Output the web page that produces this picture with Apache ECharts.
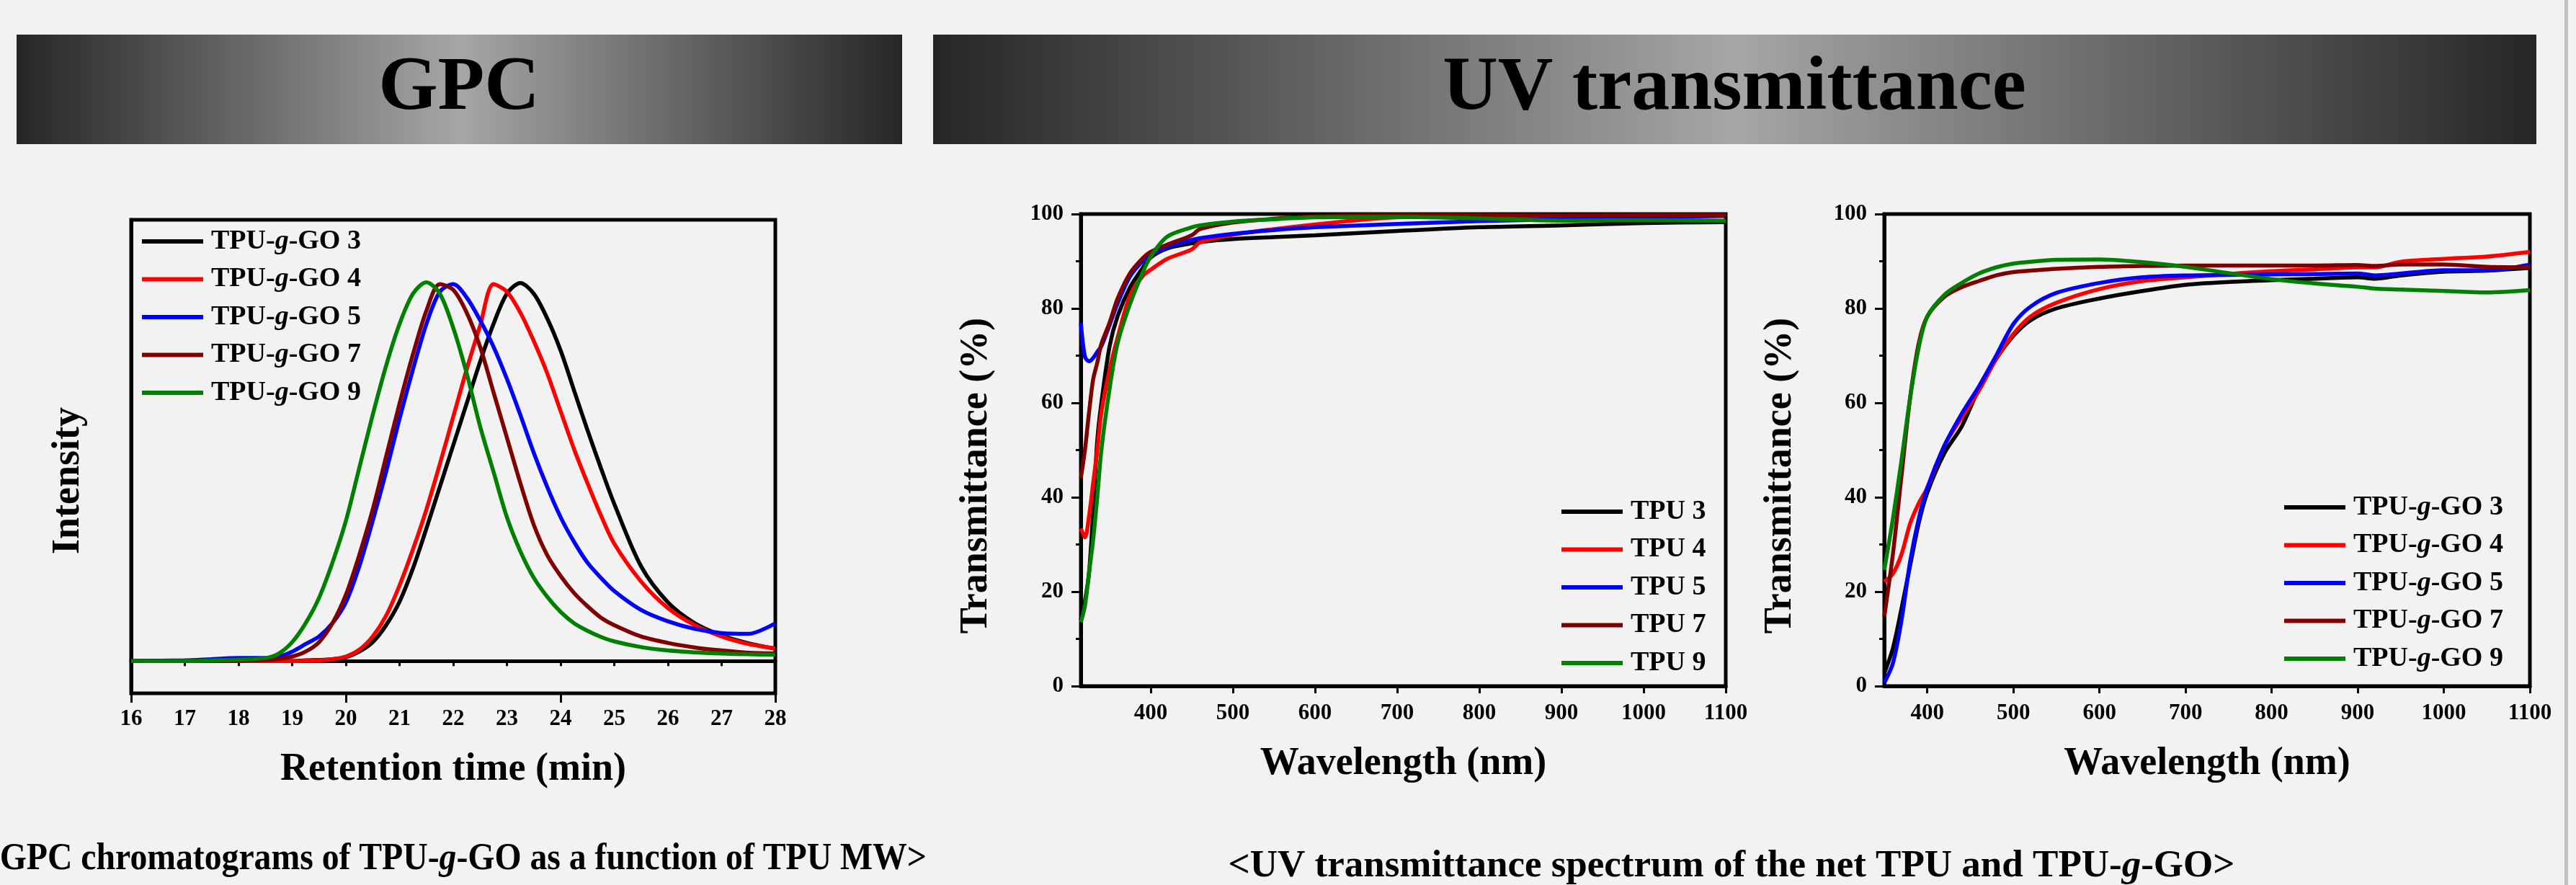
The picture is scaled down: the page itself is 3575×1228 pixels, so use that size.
<!DOCTYPE html>
<html>
<head>
<meta charset="utf-8">
<script src="https://cdn.jsdelivr.net/npm/echarts@6/dist/echarts.min.js"></script>
<style>
html,body{margin:0;padding:0;background:#f2f2f2;}
#main{width:3575px;height:1228px;}
</style>
</head>
<body>
<div id="main"></div>
<script>
var serif = '"Liberation Serif", "Times New Roman", serif'

// GPC: retention time (min) vs normalised intensity
var gpcTime = [16, 17, 17.5, 18, 18.5, 18.75, 19, 19.25, 19.5, 19.75, 20, 20.25, 20.5, 20.75, 21, 21.25, 21.5, 21.75, 22, 22.25, 22.5, 22.75, 23, 23.25, 23.5, 23.75, 24, 24.25, 24.5, 24.75, 25, 25.5, 26, 26.5, 27, 27.5, 28]
var gpc3 = [0, 0, 0, 0, 0, 0, 0, 0.002, 0.003, 0.005, 0.01, 0.025, 0.05, 0.095, 0.157, 0.245, 0.35, 0.46, 0.57, 0.68, 0.79, 0.89, 0.97, 0.998, 0.97, 0.905, 0.82, 0.715, 0.61, 0.51, 0.415, 0.25, 0.155, 0.1, 0.068, 0.047, 0.033]
var gpc4 = [0, 0, 0, 0, 0, 0, 0, 0.001, 0.002, 0.005, 0.012, 0.03, 0.065, 0.12, 0.2, 0.295, 0.4, 0.52, 0.645, 0.77, 0.885, 0.995, 0.975, 0.92, 0.845, 0.76, 0.66, 0.56, 0.47, 0.385, 0.31, 0.21, 0.14, 0.095, 0.065, 0.045, 0.033]
var gpc5 = [0, 0.002, 0.005, 0.008, 0.008, 0.012, 0.025, 0.045, 0.065, 0.1, 0.155, 0.25, 0.37, 0.5, 0.64, 0.77, 0.89, 0.975, 0.995, 0.96, 0.9, 0.83, 0.745, 0.65, 0.55, 0.46, 0.38, 0.315, 0.26, 0.22, 0.185, 0.135, 0.105, 0.085, 0.074, 0.072, 0.1]
var gpc7 = [0, 0, 0, 0.001, 0.003, 0.006, 0.012, 0.025, 0.05, 0.1, 0.175, 0.28, 0.4, 0.54, 0.68, 0.81, 0.925, 0.995, 0.98, 0.92, 0.83, 0.71, 0.59, 0.47, 0.36, 0.28, 0.225, 0.18, 0.145, 0.115, 0.095, 0.065, 0.048, 0.036, 0.028, 0.022, 0.02]
var gpc9 = [0, 0, 0.002, 0.004, 0.008, 0.02, 0.05, 0.1, 0.167, 0.26, 0.37, 0.51, 0.65, 0.78, 0.89, 0.97, 1.0, 0.97, 0.88, 0.76, 0.62, 0.5, 0.38, 0.29, 0.22, 0.17, 0.13, 0.1, 0.08, 0.064, 0.052, 0.037, 0.028, 0.023, 0.02, 0.018, 0.017]

// UV transmittance of the net TPU (%)
var uvWave1 = [315, 320, 325, 330, 335, 340, 350, 360, 375, 390, 400, 420, 450, 460, 500, 550, 600, 700, 800, 900, 1000, 1100]
var tpu3 = [14, 18, 24, 37, 52, 60, 72, 78.5, 84.5, 88.5, 90.8, 92.7, 93.8, 94.1, 94.7, 95.1, 95.5, 96.4, 97.2, 97.6, 98.1, 98.3]
var tpu4 = [33.4, 31.5, 36, 43, 50, 58, 67, 74, 82.8, 86.8, 88.2, 90.5, 92.5, 94, 95.6, 96.8, 97.8, 99.3, 99.5, 99.5, 99.6, 99.6]
var tpu5 = [77, 69.8, 68.8, 69.5, 70.8, 72, 76.5, 81.2, 86.8, 90, 91.3, 93, 94.5, 94.9, 95.8, 96.6, 97.2, 97.9, 98.5, 98.9, 99.3, 99.6]
var tpu7 = [44, 50, 58, 65, 68.5, 72.5, 77, 82.2, 87.5, 90.6, 92, 93.5, 95.5, 96.8, 98.2, 99, 99.5, 99.8, 99.8, 99.7, 99.8, 99.8]
var tpu9 = [13.5, 17, 24, 31, 40, 50, 63, 72.8, 81, 87.5, 91, 95.2, 97.2, 97.6, 98.4, 98.9, 99.3, 99.4, 99.1, 98.6, 98.7, 98.6]

// UV transmittance of TPU-g-GO (%)
var uvWave2 = [350, 360, 370, 380, 390, 400, 420, 440, 460, 480, 500, 520, 550, 600, 650, 700, 750, 800, 850, 900, 920, 950, 1000, 1050, 1100]
var go3 = [2.7, 8, 16.4, 25.5, 34.5, 41, 49.4, 55, 63, 69.3, 74.2, 77.5, 80, 82.1, 83.7, 85, 85.6, 86, 86.3, 86.6, 86.3, 87, 87.8, 88, 88.6]
var go4 = [22.1, 23.8, 27.9, 34.4, 38.7, 42, 51, 56.9, 62.6, 69.3, 74.6, 78.3, 81.2, 84.1, 85.8, 86.6, 87.3, 87.9, 88.3, 88.7, 88.7, 89.9, 90.5, 91, 92]
var go5 = [0.7, 4.8, 13.9, 26.3, 35.4, 42, 51, 57.7, 63.5, 70, 76.7, 80.4, 83.3, 85.4, 86.6, 87, 87.1, 87.2, 87.3, 87.4, 87, 87.4, 88.1, 88.1, 89.3]
var go7 = [14.7, 27.9, 44.5, 61, 72.6, 78.3, 82.5, 84.5, 85.8, 87, 87.7, 88, 88.4, 88.8, 89, 89.1, 89.1, 89.1, 89.1, 89.2, 89, 89.3, 89.3, 88.8, 88.7]
var go9 = [24.6, 35.4, 47.8, 61, 71.7, 78.3, 82.9, 85.4, 87.4, 88.7, 89.5, 89.9, 90.3, 90.4, 89.8, 88.8, 87.5, 86.2, 85.3, 84.6, 84.2, 84, 83.7, 83.4, 83.9]

var uvTicks = [400, 500, 600, 700, 800, 900, 1000, 1100]
var tpuNames = ['TPU 3', 'TPU 4', 'TPU 5', 'TPU 7', 'TPU 9']
var goNames = ['TPU-g-GO 3', 'TPU-g-GO 4', 'TPU-g-GO 5', 'TPU-g-GO 7', 'TPU-g-GO 9']
var colors = ['#000000', '#ff0000', '#0000ff', '#800000', '#008000']

var chart = echarts.init(document.getElementById('main'))

function pairs(xs, ys){
	var out = []
	for (var i = 0; i < xs.length; i++) out.push([xs[i], ys[i]])
	return out
}

function line(name, k, xi, yi, xs, ys){
	return {
		name: name, type: 'line', xAxisIndex: xi, yAxisIndex: yi,
		data: pairs(xs, ys), symbol: 'none', showSymbol: false, smooth: 0.3,
		lineStyle: {color: colors[k], width: 5.5}, itemStyle: {color: colors[k]}
	}
}

var blk = '#000'
var plain = function(v){ return String(v) }
var tickLabel = {fontFamily: serif, fontWeight: 'bold', fontSize: 31, color: blk, formatter: plain}
var titleText = {fontFamily: serif, fontWeight: 'bold', fontSize: 54, color: blk}

function legend(names, left, top){
	return {
		orient: 'vertical', left: left, top: top, padding: 0,
		itemWidth: 85, itemHeight: 6, itemGap: 14.5, icon: 'rect',
		selectedMode: false, data: names,
		formatter: function(n){ return n.replace('-g-', '-{i|g}-') },
		textStyle: {
			fontFamily: serif, fontWeight: 'bold', fontSize: 38, lineHeight: 38, color: blk,
			padding: [0, 0, 0, 6],
			rich: {i: {fontFamily: serif, fontWeight: 'bold', fontStyle: 'italic', fontSize: 38, lineHeight: 38, color: blk}}
		}
	}
}

function uvX(grid, min){
	return {
		gridIndex: grid, type: 'value', min: min, max: 1100, position: 'bottom',
		axisLine: {show: true, lineStyle: {color: blk, width: 5}},
		axisTick: {customValues: uvTicks, length: 10, lineStyle: {color: blk, width: 3}},
		axisLabel: Object.assign({customValues: uvTicks, margin: 22}, tickLabel),
		splitLine: {show: false},
		name: 'Wavelength (nm)', nameLocation: 'middle', nameGap: 81, nameTextStyle: titleText
	}
}

function uvY(grid){
	return {
		gridIndex: grid, type: 'value', min: 0, max: 100, interval: 20,
		axisLine: {show: true, lineStyle: {color: blk, width: 5}},
		axisTick: {show: true, length: 13, lineStyle: {color: blk, width: 3}},
		minorTick: {show: true, splitNumber: 2, length: 7, lineStyle: {color: blk, width: 3}},
		axisLabel: Object.assign({margin: 24}, tickLabel),
		splitLine: {show: false}, minorSplitLine: {show: false}
	}
}

function bar(x, w){
	return {
		type: 'rect', shape: {x: x, y: 48, width: w, height: 152},
		style: {fill: new echarts.graphic.LinearGradient(0, 0, 1, 0, [
			{offset: 0, color: '#262626'}, {offset: 0.5, color: '#a6a6a6'}, {offset: 1, color: '#262626'}
		])}
	}
}

function txt(x, y, s, size, rot, align, sx){
	return {
		type: 'text', x: x, y: y, rotation: rot || 0, scaleX: sx || 1,
		style: {
			text: s, font: 'bold ' + size + 'px ' + serif, fill: blk,
			align: align || 'center', verticalAlign: 'middle',
			rich: {i: {fontFamily: serif, fontWeight: 'bold', fontStyle: 'italic', fontSize: size, fill: blk}}
		}
	}
}

var series = []
var gpcAll = [gpc3, gpc4, gpc5, gpc7, gpc9]
var tpuAll = [tpu3, tpu4, tpu5, tpu7, tpu9]
var goAll = [go3, go4, go5, go7, go9]
for (var k = 0; k < 5; k++) series.push(line(goNames[k], k, 0, 0, gpcTime, gpcAll[k]))
for (var k = 0; k < 5; k++) series.push(line(tpuNames[k], k, 2, 1, uvWave1, tpuAll[k]))
for (var k = 0; k < 5; k++) series.push(line(goNames[k], k, 3, 2, uvWave2, goAll[k]))

chart.setOption({
	animation: false,
	backgroundColor: '#f2f2f2',
	grid: [
		{left: 182, top: 305, width: 894, height: 657, show: true, borderColor: blk, borderWidth: 5},
		{left: 1500, top: 297, width: 895, height: 655, show: true, borderColor: blk, borderWidth: 5},
		{left: 2615, top: 297, width: 896, height: 655, show: true, borderColor: blk, borderWidth: 5}
	],
	xAxis: [
		{
			gridIndex: 0, type: 'value', min: 16, max: 28, interval: 1, position: 'bottom',
			axisLine: {show: true, lineStyle: {color: blk, width: 5}},
			axisTick: {length: 7, lineStyle: {color: blk, width: 3}},
			axisLabel: Object.assign({margin: 20}, tickLabel),
			splitLine: {show: false},
			name: 'Retention time (min)', nameLocation: 'middle', nameGap: 79, nameTextStyle: titleText
		},
		{
			gridIndex: 0, type: 'value', min: 16, max: 28, interval: 4, position: 'bottom',
			axisLine: {show: false}, axisLabel: {show: false}, splitLine: {show: false},
			axisTick: {length: 13, lineStyle: {color: blk, width: 3}}
		},
		uvX(1, 315),
		uvX(2, 350)
	],
	yAxis: [
		{
			gridIndex: 0, type: 'value', min: -0.085, max: 1.165,
			axisLine: {show: true, lineStyle: {color: blk, width: 5}},
			axisTick: {show: false}, axisLabel: {show: false}, splitLine: {show: false}
		},
		uvY(1),
		uvY(2)
	],
	legend: [
		legend(goNames, 197, 316),
		legend(tpuNames, 2167, 691),
		legend(goNames, 3170, 685)
	],
	graphic: [
		bar(23, 1229),
		bar(1295, 2225),
		{type: 'rect', shape: {x: 3559, y: 0, width: 5, height: 1228}, style: {fill: '#c0c0c0'}},
		txt(637, 124, 'GPC', 106),
		txt(2407, 124, 'UV transmittance', 106),
		txt(95, 667, 'Intensity', 54, Math.PI / 2),
		txt(1355, 660, 'Transmittance (%)', 54, Math.PI / 2),
		txt(2471, 660, 'Transmittance (%)', 54, Math.PI / 2),
		txt(1286, 1192, '<GPC chromatograms of TPU-{i|g}-GO as a function of TPU MW>', 53, 0, 'right', 0.9),
		txt(2403, 1202, '<UV transmittance spectrum of the net TPU and TPU-{i|g}-GO>', 53)
	],
	series: series
})
</script>
</body>
</html>
